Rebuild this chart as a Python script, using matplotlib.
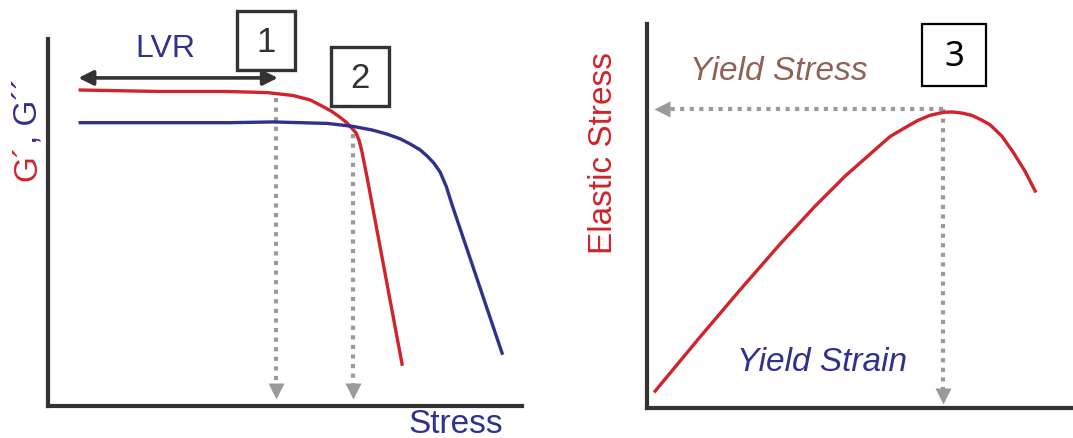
import matplotlib.pyplot as plt
from matplotlib.patches import Rectangle

W, H = 1073, 439

# left panel: G' and G'' vs stress (arbitrary units 0-100)
g1_x = [6.8, 23.6, 37.8, 46.2, 51.7, 55.3, 57.4, 59.7, 61.6, 63.1, 64.1, 65.0, 65.6, 66.2, 67.3, 74.7]
g1_y = [86.1, 85.7, 85.7, 85.4, 84.6, 83.4, 82.0, 80.4, 78.7, 77.1, 75.7, 74.4, 72.5, 69.5, 62.4, 11.4]
g2_x = [6.8, 23.6, 38.4, 47.5, 58.9, 64.3, 68.4, 71.5, 74.3, 76.4, 78.5, 80.0, 81.4, 82.7, 84.0, 85.2, 95.8]
g2_y = [77.2, 77.2, 77.2, 77.4, 77.0, 76.2, 75.2, 74.1, 72.8, 71.4, 69.8, 68.1, 66.2, 63.8, 59.9, 55.0, 14.4]
lvr = [6.4, 48.5]
lvr_level = 89.4
drop_x = [48.1, 64.4]
drop_top = [84.0, 74.1]

# right panel: elastic stress vs strain
st_x = [1.9, 12.4, 21.7, 31.1, 39.3, 46.3, 52.1, 56.8, 60.3, 63.3, 66.1, 69.2, 71.3, 73.6,
        75.9, 78.0, 80.1, 82.9, 85.5, 88.3, 90.7]
st_y = [4.4, 18.5, 30.7, 42.7, 52.6, 60.4, 66.1, 70.7, 73.0, 74.9, 76.2, 77.0, 77.1, 76.8,
        76.2, 75.1, 73.8, 70.8, 66.7, 61.7, 56.5]
yield_pt = (69.2, 77.9)

red = '#d0232b'
blue = '#2f318c'
gray = '#9a9a9a'
dark = '#333333'
font = 'Liberation Sans'

fig = plt.figure(figsize=(W / 100, H / 100), dpi=100)


def fpos(px, py):
    return px / W, 1 - py / H


def make_axes(x0, y0, x1, y1):
    ax = fig.add_axes([x0 / W, 1 - y1 / H, (x1 - x0) / W, (y1 - y0) / H])
    ax.set_xlim(0, 100)
    ax.set_ylim(0, 100)
    for s in ['top', 'right']:
        ax.spines[s].set_visible(False)
    for s in ['left', 'bottom']:
        ax.spines[s].set_linewidth(3)
        ax.spines[s].set_color(dark)
    ax.set_xticks([])
    ax.set_yticks([])
    ax.patch.set_alpha(0)
    return ax


ax1 = make_axes(48, 40, 522, 407)
ax2 = make_axes(647, 25, 1075, 409)

# dotted drop lines
for x, top in zip(drop_x, drop_top):
    ax1.plot([x, x], [top, 5], ls=(0, (1, 1.3)), color=gray, lw=3, solid_capstyle='butt')
    ax1.plot([x], [4.2], marker='v', color=gray, ms=11, mec='none')

ax1.plot(g1_x, g1_y, color=red, lw=2.4, solid_joinstyle='round')
ax1.plot(g2_x, g2_y, color=blue, lw=2.4, solid_joinstyle='round')

ax1.annotate('', xy=(lvr[0], lvr_level), xytext=(lvr[1], lvr_level),
             arrowprops=dict(arrowstyle='<|-|>', color=dark, lw=2.6, mutation_scale=22,
                             shrinkA=0, shrinkB=0))

ax2.plot([yield_pt[0], 5], [yield_pt[1], yield_pt[1]], ls=(0, (1, 1.3)), color=gray, lw=3)
ax2.plot([3.6], [yield_pt[1]], marker='<', color=gray, ms=11, mec='none')
ax2.plot([yield_pt[0], yield_pt[0]], [yield_pt[1], 4.5], ls=(0, (1, 1.3)), color=gray, lw=3)
ax2.plot([yield_pt[0]], [3.2], marker='v', color=gray, ms=11, mec='none')
ax2.plot(st_x, st_y, color=red, lw=2.4, solid_joinstyle='round')

# labels
fig.text(*fpos(165, 49), 'LVR', color=blue, fontsize=23, family=font, ha='center', va='center')
fig.text(*fpos(456, 425), 'Stress', color=blue, fontsize=24, family=font, ha='center', va='center')
t1 = fig.text(*fpos(28, 181), 'G\u00b4', color=red, fontsize=24, family=font,
              rotation=90, ha='center', va='bottom')
fig.texts.append(plt.Annotation(', G\u00b4\u00b4', xy=(0.5, 1), xycoords=t1, color=blue, fontsize=24,
                                family=font, rotation=90, ha='center', va='bottom'))
fig.texts[-1].set_figure(fig)
fig.text(*fpos(779, 72), 'Yield Stress', color='#8e6256', fontsize=24, family=font,
         style='italic', ha='center', va='center')
fig.text(*fpos(822, 363), 'Yield Strain', color=blue, fontsize=24, family=font,
         style='italic', ha='center', va='center')
fig.text(*fpos(603, 153), 'Elastic Stress', color=red, fontsize=24, family=font,
         rotation=90, ha='center', va='center')

# numbered boxes
boxes = [(237, 12, 295, 71, '1', dark, 2.4, font),
         (331, 48, 389, 107, '2', dark, 2.4, font),
         (922, 25, 986, 87, '3', 'black', 1.6, 'Noto Sans')]
for x0, y0, x1, y1, lab, c, lw, fam in boxes:
    fig.patches.append(Rectangle(fpos(x0, y1), (x1 - x0) / W, (y1 - y0) / H, fill=True,
                                 facecolor='white', edgecolor=c, lw=lw,
                                 transform=fig.transFigure, figure=fig))
    fig.text(*fpos((x0 + x1) / 2, (y0 + y1) / 2 + 1), lab, color=c, fontsize=25, family=fam,
             ha='center', va='center', fontweight='light')

fig.savefig('out.png', dpi=100)
